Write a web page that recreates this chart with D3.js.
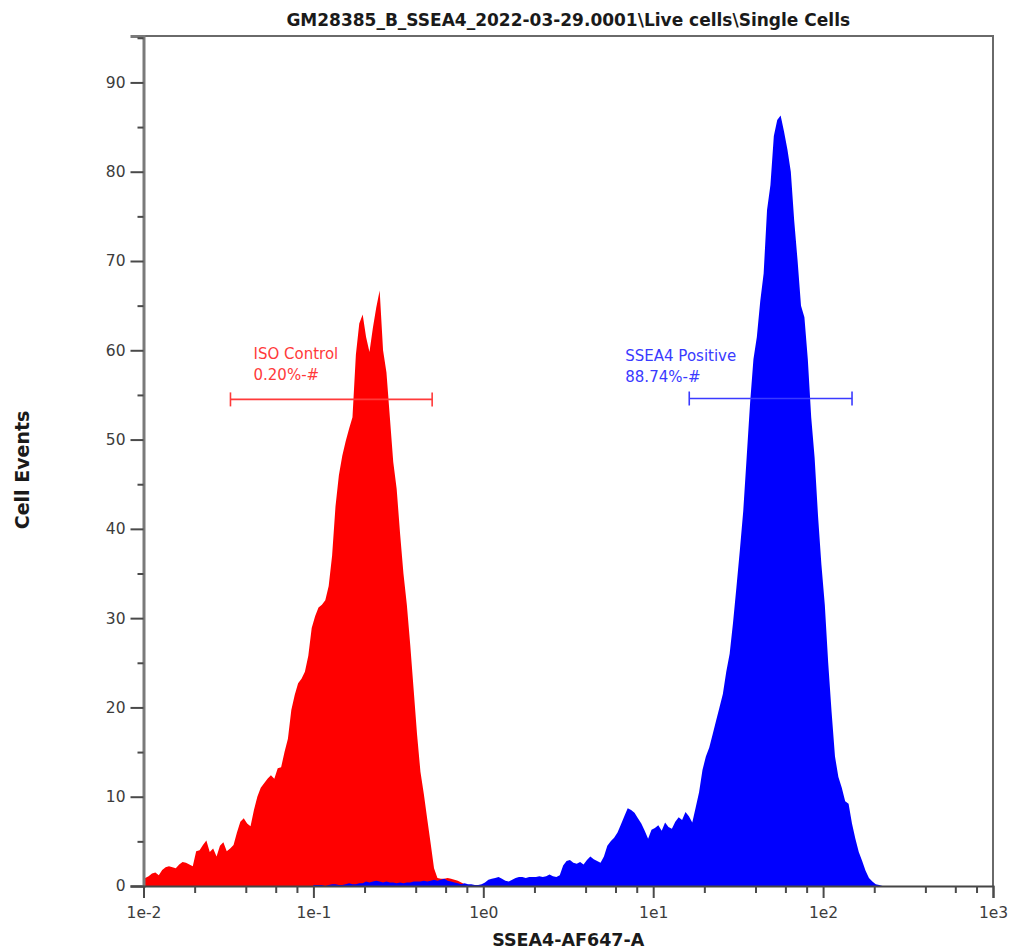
<!DOCTYPE html>
<html>
<head>
<meta charset="utf-8">
<script src="https://cdn.jsdelivr.net/npm/d3@7"></script>
<style>
    body { margin: 0; background: #fff; }
    #chart { position: absolute; left: 0; top: 0; }
</style>
</head>
<body>
<div id="chart"></div>
<script>
// histogram bins are equal steps in log10 space
const binWidthLog = 0.02;
const isoBinStart = -2.0;
const ssea4BinStart = -1.0;

// ISO control (red) cell events per bin, from 1e-2 upward
const isoCounts = [
    0.9, 1.1, 1.4, 1.5, 1.2, 1.8, 2.1, 2.2, 2.1, 2.0,
    2.4, 2.7, 2.6, 2.4, 2.2, 3.9, 4.0, 4.6, 5.1, 3.8,
    4.2, 3.3, 4.5, 4.9, 3.9, 4.2, 4.6, 6.0, 7.2, 7.6,
    7.0, 6.7, 8.5, 10.0, 11.0, 11.5, 12.0, 12.4, 12.0, 13.2,
    13.3, 15.0, 16.5, 19.7, 21.4, 22.7, 23.2, 24.0, 25.8, 28.9,
    30.2, 31.2, 31.5, 32.0, 33.6, 37.0, 42.5, 46.0, 48.2, 49.8,
    51.2, 52.5, 59.5, 63.0, 64.0, 61.5, 59.8, 62.5, 64.8, 66.7,
    60.0, 57.5, 52.5, 47.5, 44.5, 39.5, 35.0, 31.5, 27.0, 22.0,
    17.0, 12.8, 10.3, 7.5, 4.8, 2.0, 0.9, 0.8, 0.8, 0.9,
    0.8, 0.7, 0.6, 0.4, 0.2, 0.0
];

// SSEA4 stained (blue) cell events per bin, from 1e-1 upward
const ssea4Counts = [
    0.1, 0.1, 0.1, 0.0, 0.1, 0.2, 0.2, 0.1, 0.1, 0.2,
    0.3, 0.2, 0.2, 0.3, 0.3, 0.5, 0.4, 0.5, 0.6, 0.5,
    0.4, 0.5, 0.4, 0.4, 0.3, 0.4, 0.3, 0.4, 0.4, 0.5,
    0.5, 0.5, 0.6, 0.5, 0.6, 0.7, 0.6, 0.7, 0.8, 0.6,
    0.5, 0.4, 0.3, 0.2, 0.3, 0.2, 0.2, 0.1, 0.1, 0.2,
    0.4, 0.7, 0.8, 0.9, 1.0, 0.8, 0.6, 0.5, 0.7, 0.9,
    1.0, 1.0, 0.9, 1.0, 1.0, 1.0, 1.1, 1.0, 1.1, 1.3,
    1.1, 1.0, 1.2, 2.3, 2.8, 2.9, 2.6, 2.5, 2.7, 2.4,
    2.9, 3.3, 3.0, 2.8, 2.6, 3.3, 4.5, 5.0, 5.4, 6.0,
    6.9, 7.8, 8.7, 8.5, 8.2, 7.6, 7.0, 6.2, 5.3, 6.3,
    6.5, 6.8, 6.2, 7.1, 6.6, 6.4, 7.2, 7.7, 7.4, 8.3,
    7.8, 7.1, 8.8, 10.5, 13.0, 14.5, 15.5, 17.0, 18.5, 20.0,
    21.5, 24.0, 26.0, 29.5, 33.5, 37.6, 42.0, 48.0, 54.0, 59.0,
    61.5, 65.5, 68.6, 75.7, 78.5, 84.0, 85.8, 86.3, 84.5, 82.5,
    80.0, 74.5, 70.0, 65.0, 63.7, 59.0, 52.5, 48.0, 41.5, 36.0,
    31.5, 25.0, 19.5, 14.5, 12.2, 11.0, 9.5, 9.2, 7.0, 5.3,
    3.8, 2.8, 1.7, 0.9, 0.5, 0.2, 0.1, 0.0
];

const xMajorTicks = [1e-2, 1e-1, 1e0, 1e1, 1e2, 1e3];
const xTickLabels = ['1e-2', '1e-1', '1e0', '1e1', '1e2', '1e3'];
const xMinorMultipliers = [2, 4, 6, 8];
const yMajorTicks = [0, 10, 20, 30, 40, 50, 60, 70, 80, 90];
const yMinorTicks = [5, 15, 25, 35, 45, 55, 65, 75, 85, 95];

// gates: name, percentage, range on the x axis, bar level and label anchor
const gateNames = ['ISO Control', 'SSEA4 Positive'];
const gatePercents = ['0.20%-#', '88.74%-#'];
const gateRanges = [[0.0325, 0.5], [16.3, 148]];
const gateLevels = [54.5, 54.6];
const gateLabelAnchors = [[0.0444, 59.0], [6.85, 58.8]];

const chartTitle = 'GM28385_B_SSEA4_2022-03-29.0001\\Live cells\\Single Cells';
const xAxisTitle = 'SSEA4-AF647-A';
const yAxisTitle = 'Cell Events';

class FlowHistogram {
    constructor(config) {
        this.config = {
            parent: config.parent,
            width: config.width || 1009,
            height: config.height || 949,
            left: 143.5,
            right: 993,
            top: 36,
            bottom: 886
        };
        this.init();
    }

    init() {
        let self = this;
        const c = self.config;

        self.svg = d3.select(c.parent).append('svg')
            .attr('width', c.width)
            .attr('height', c.height)
            .style('font-family', '"DejaVu Sans", sans-serif');

        self.xscale = d3.scaleLog()
            .domain([1e-2, 1e3])
            .range([c.left, c.right]);

        self.yscale = d3.scaleLinear()
            .domain([0, 95.2])
            .range([c.bottom, c.top]);

        self.svg.append('clipPath').attr('id', 'plot-clip')
            .append('rect')
            .attr('x', c.left).attr('y', c.top)
            .attr('width', c.right - c.left).attr('height', c.bottom - c.top);
    }

    // outline through the bin centres, closed down to zero at the far edge
    binPoints(start, counts) {
        let pts = [{ x: Math.pow(10, start), y: counts[0] }];
        counts.forEach((v, i) => pts.push({ x: Math.pow(10, start + (i + 0.5) * binWidthLog), y: v }));
        pts.push({ x: Math.pow(10, start + counts.length * binWidthLog), y: 0 });
        return pts;
    }

    render() {
        let self = this;
        const c = self.config;

        const area = d3.area()
            .curve(d3.curveLinear)
            .x(d => self.xscale(d.x))
            .y0(self.yscale(0))
            .y1(d => self.yscale(d.y));

        const plot = self.svg.append('g').attr('clip-path', 'url(#plot-clip)');

        plot.append('path')
            .datum(self.binPoints(isoBinStart, isoCounts))
            .attr('fill', '#ff0000')
            .attr('d', area);

        plot.append('path')
            .datum(self.binPoints(ssea4BinStart, ssea4Counts))
            .attr('fill', '#0000ff')
            .attr('d', area);

        // frame: top and right edges
        self.svg.append('path')
            .attr('d', `M${c.left - 6},${c.top}H${c.right}V${c.bottom}`)
            .attr('fill', 'none')
            .attr('stroke', '#6a6a6a')
            .attr('stroke-width', 2);

        // y axis, majors with labels and minors without
        const yMajor = d3.axisLeft(self.yscale)
            .tickValues(yMajorTicks)
            .tickSize(13)
            .tickPadding(5)
            .tickFormat(d3.format('d'));
        const yg = self.svg.append('g')
            .attr('transform', `translate(${c.left}, 0)`)
            .call(yMajor);

        const yMinor = d3.axisLeft(self.yscale)
            .tickValues(yMinorTicks)
            .tickSize(6)
            .tickFormat('');
        const ygm = self.svg.append('g')
            .attr('transform', `translate(${c.left}, 0)`)
            .call(yMinor);
        ygm.select('.domain').remove();

        yg.select('.domain')
            .attr('stroke', '#7a7a7a')
            .attr('stroke-width', 3);

        // x axis
        const xMajor = d3.axisBottom(self.xscale)
            .tickValues(xMajorTicks)
            .tickSize(12)
            .tickPadding(9)
            .tickFormat((d, i) => xTickLabels[i]);
        const xg = self.svg.append('g')
            .attr('transform', `translate(0, ${c.bottom})`)
            .call(xMajor);

        let minorValues = [];
        xMajorTicks.slice(0, -1).forEach(m => xMinorMultipliers.forEach(k => minorValues.push(m * k)));
        const xMinor = d3.axisBottom(self.xscale)
            .tickValues(minorValues)
            .tickSize(7)
            .tickFormat('');
        const xgm = self.svg.append('g')
            .attr('transform', `translate(0, ${c.bottom})`)
            .call(xMinor);
        xgm.select('.domain').remove();

        xg.select('.domain')
            .attr('stroke', '#454545')
            .attr('stroke-width', 2);

        [yg, ygm, xg, xgm].forEach(g => {
            g.selectAll('.tick line').attr('stroke', '#4a4a4a').attr('stroke-width', 2);
            g.selectAll('.tick text')
                .attr('fill', '#3c3c3c')
                .style('font-size', '15.5px')
                .style('font-family', '"DejaVu Sans", sans-serif');
        });

        // gates
        gateNames.forEach((name, i) => {
            const col = i === 0 ? '#ff3a3a' : '#3a3aff';
            const yv = self.yscale(gateLevels[i]);
            const x0 = self.xscale(gateRanges[i][0]);
            const x1 = self.xscale(gateRanges[i][1]);
            const g = self.svg.append('g').attr('stroke', col).attr('stroke-width', 1.6);
            g.append('line').attr('x1', x0).attr('x2', x1).attr('y1', yv).attr('y2', yv);
            g.append('line').attr('x1', x0).attr('x2', x0).attr('y1', yv - 7).attr('y2', yv + 7);
            g.append('line').attr('x1', x1).attr('x2', x1).attr('y1', yv - 7).attr('y2', yv + 7);

            const lx = self.xscale(gateLabelAnchors[i][0]);
            const ly = self.yscale(gateLabelAnchors[i][1]);
            const t = self.svg.append('text')
                .attr('x', lx).attr('y', ly)
                .attr('fill', col)
                .style('font-size', '15px');
            t.append('tspan').attr('x', lx).text(name);
            t.append('tspan').attr('x', lx).attr('dy', 21).text(gatePercents[i]);
        });

        // titles
        self.svg.append('text')
            .attr('x', (c.left + c.right) / 2)
            .attr('y', 26)
            .attr('text-anchor', 'middle')
            .attr('fill', '#1a1a1a')
            .style('font-size', '17px')
            .style('font-weight', 'bold')
            .text(chartTitle);

        self.svg.append('text')
            .attr('x', (c.left + c.right) / 2)
            .attr('y', 946)
            .attr('text-anchor', 'middle')
            .attr('fill', '#1a1a1a')
            .style('font-size', '17.5px')
            .style('font-weight', 'bold')
            .text(xAxisTitle);

        self.svg.append('text')
            .attr('transform', 'translate(29, 470) rotate(-90)')
            .attr('text-anchor', 'middle')
            .attr('fill', '#1a1a1a')
            .style('font-size', '19px')
            .style('font-weight', 'bold')
            .text(yAxisTitle);
    }
}

let chart = new FlowHistogram({ parent: '#chart', width: 1009, height: 949 });
chart.render();
</script>
</body>
</html>
